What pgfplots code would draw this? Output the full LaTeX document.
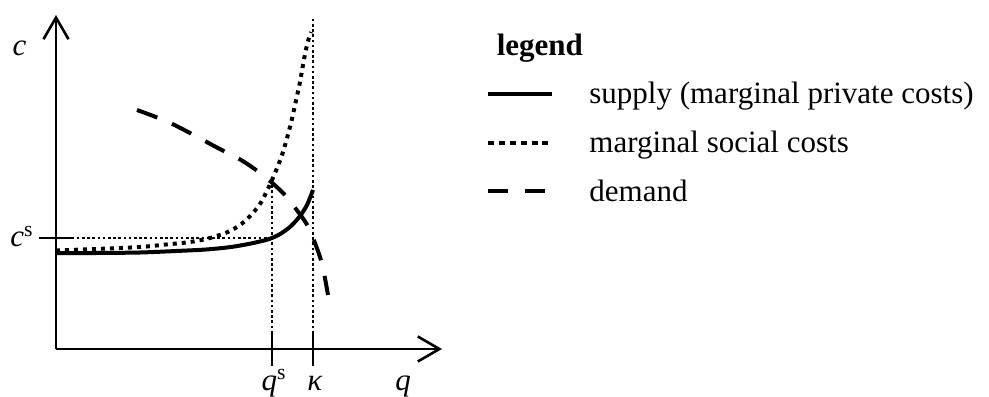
\documentclass[border=0pt]{standalone}
\usepackage{fontspec}
\setmainfont{Liberation Serif}
\usepackage{pgfplots}
\pgfplotsset{compat=1.18}
\usetikzlibrary{arrows.meta}

\newcommand{\chartfont}{\fontsize{15.5}{18}\selectfont}

\begin{document}
\chartfont
\begin{tikzpicture}[font=\chartfont]
\useasboundingbox (-28pt,-23.5pt) rectangle (466.5pt,174.5pt);
\begin{axis}[
  x=0.5pt, y=0.5pt,
  anchor=origin, at={(0pt,0pt)},
  xmin=0, xmax=386, ymin=0, ymax=334,
  clip=false,
  axis lines=left,
  axis line style={line width=1.3pt, -{Straight Barb[length=10.8pt, width=12.5pt]}},
  xtick={216,257},
  xticklabels={\textit{q}\textsuperscript{s}, \textit{κ}},
  ytick={111},
  yticklabels={\textit{c}\textsuperscript{s}},
  tick style={line width=1.3pt, black},
  major tick length=17pt,
  tick align=center,
  tick label style={font=\chartfont, inner sep=0pt},
  xticklabel style={anchor=base, xshift=1pt, yshift=-12pt},
  yticklabel style={anchor=base east, xshift=-2.5pt, yshift=-4.35pt},
  xlabel={\textit{q}},
  ylabel={\textit{c}},
  every axis x label/.style={at={(rel axis cs:0.899,0)}, anchor=base, yshift=-20.5pt, font=\chartfont, inner sep=0pt},
  every axis y label/.style={at={(rel axis cs:0,0.880)}, anchor=base, xshift=-18.25pt, font=\chartfont, inner sep=0pt},
  legend style={
    at={(rel axis cs:1.115,0.946)}, anchor=north west,
    draw=none, fill=none, inner sep=0pt, outer sep=0pt,
    font=\chartfont,
    row sep=12.4pt,
    nodes={inner sep=0pt, text height=11pt, text depth=1pt},
    /tikz/every odd column/.style={column sep=17.5pt},
  },
  legend cell align=left,
  legend image code/.code={\draw[#1] (0pt,0pt) -- (32pt,0pt);},
  guide/.style={forget plot, black, line width=1.4pt, dash pattern=on 1.3pt off 1.3pt},
]

% guide lines at the equilibrium quantity/price and the capacity
\addplot[guide] coordinates {(216,0) (216,169)};
\addplot[guide] coordinates {(257,0) (257,332)};
\addplot[guide] coordinates {(0,111) (216,111)};

% supply (marginal private costs)
\addplot[forget plot, black, line width=2pt, smooth, tension=0.5] coordinates {
  (0,96) (40,96) (84,96.5) (120,98) (150,99.5) (175,102) (195,105.5)
  (210,109) (216,111) (225,115.5) (235,123) (244,133) (251,144) (257,159)
};

% marginal social costs
\addplot[forget plot, black, line width=2pt, dash pattern=on 2pt off 2.5pt, smooth, tension=0.5] coordinates {
  (0,98.5) (40,100) (84,102) (110,104.5) (134,107) (154,111) (174,118)
  (189,128) (204,145) (216,169) (226,194) (234,222) (239,244) (244,267)
  (247.5,287) (251.5,306) (255,317)
};

% demand
\addplot[forget plot, black, line width=2pt, dash pattern=on 10.8pt off 8pt, smooth, tension=0.5] coordinates {
  (81,239) (110,228) (134,216) (160,202) (185,189) (200,179) (214,168)
  (228,155) (240,140) (250,126) (257,111) (264,92) (268,76) (272,54)
};

\addlegendimage{empty legend}
\addlegendentry{\hspace*{-50.5pt}\textbf{legend}}
\addlegendimage{black, line width=2pt}
\addlegendentry{supply (marginal private costs)}
\addlegendimage{black, line width=2pt, dash pattern=on 3pt off 2.4pt}
\addlegendentry{marginal social costs}
\addlegendimage{black, line width=2pt, dash pattern=on 10pt off 8.5pt}
\addlegendentry{demand}

\end{axis}
\end{tikzpicture}
\end{document}
